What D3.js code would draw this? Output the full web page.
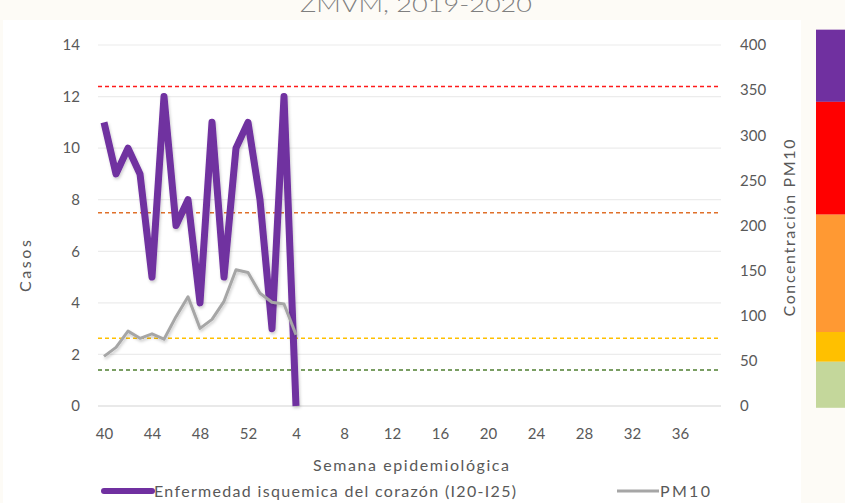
<!DOCTYPE html>
<html>
<head>
<meta charset="utf-8">
<script src="https://cdn.jsdelivr.net/npm/d3@7"></script>
<style>
  body { margin: 0; background: #fdfbf6; }
  svg { display: block; }
  text { font-family: Lato, "Open Sans", sans-serif; fill: #595959; }
</style>
</head>
<body>
<div id="chart"></div>
<script>
// weeks 40-52 of 2019, then 1-39 of 2020
var weeks = d3.range(40, 53).concat(d3.range(1, 40)).map(String);
var casos = [11, 9, 10, 9, 5, 12, 7, 8, 4, 11, 5, 10, 11, 8, 3, 12, 0];
var pm10 = [55, 65, 83, 75, 80, 74, 99, 121, 86, 96, 116, 151, 148, 125, 115, 113, 79];
var casosTicks = [0, 2, 4, 6, 8, 10, 12, 14];
var pmTicks = [0, 50, 100, 150, 200, 250, 300, 350, 400];
var limites = [
  { v: 354, color: "#ff1a1a" },
  { v: 214, color: "#e0702a" },
  { v: 75, color: "#ffc000" },
  { v: 40, color: "#4f7f30" }
];
var bandas = [
  { from: 337, to: 417, color: "#7030a0" },
  { from: 212, to: 337, color: "#ff0000" },
  { from: 82, to: 212, color: "#ff9933" },
  { from: 49, to: 82, color: "#ffc000" },
  { from: -2, to: 49, color: "#c4d79b" }
];

var W = 845, H = 503;
var svg = d3.select("#chart").append("svg").attr("width", W).attr("height", H);

// white card
svg.append("rect").attr("x", 3).attr("y", 20).attr("width", 798).attr("height", H - 20).attr("fill", "#ffffff");

// title, cut off at the top like the source
svg.append("text").attr("x", 416).attr("y", 12).attr("text-anchor", "middle")
  .attr("textLength", 232).attr("lengthAdjust", "spacingAndGlyphs")
  .style("font-size", "22px").style("font-weight", 300).style("fill", "#7f7f7f")
  .text("ZMVM, 2019-2020");

var x = d3.scalePoint().domain(weeks).range([98, 722]).padding(0.5);
var yL = d3.scaleLinear().domain([0, 14]).range([406, 45]);
var yR = d3.scaleLinear().domain([0, 400]).range([406, 45]);

// grid
svg.append("g").selectAll("line").data(casosTicks).enter().append("line")
  .attr("x1", 98).attr("x2", 721)
  .attr("y1", function (d) { return yL(d); }).attr("y2", function (d) { return yL(d); })
  .attr("stroke", function (d) { return d === 0 ? "#d4d4d4" : "#ececec"; })
  .attr("stroke-width", 1.2);

// axes
var axL = svg.append("g").attr("transform", "translate(98,0)")
  .call(d3.axisLeft(yL).tickValues(casosTicks).tickSize(0).tickPadding(18));
var axR = svg.append("g").attr("transform", "translate(721,0)")
  .call(d3.axisRight(yR).tickValues(pmTicks).tickSize(0).tickPadding(19));
var axB = svg.append("g").attr("transform", "translate(0,406)")
  .call(d3.axisBottom(x).tickValues(weeks.filter(function (d, i) { return i % 4 === 0; })).tickSize(0).tickPadding(22));
[axL, axR, axB].forEach(function (a) {
  a.select(".domain").remove();
  a.selectAll("text").style("font-size", "15px").style("fill", "#595959").attr("font-family", null);
});

// threshold lines
svg.append("g").selectAll("line").data(limites).enter().append("line")
  .attr("x1", 98).attr("x2", 721)
  .attr("y1", function (d) { return yR(d.v); }).attr("y2", function (d) { return yR(d.v); })
  .attr("stroke", function (d) { return d.color; })
  .attr("stroke-width", 1.5).attr("stroke-dasharray", "4,3");

// series
var lineL = d3.line().x(function (d, i) { return x(weeks[i]); }).y(function (d) { return yL(d); });
var lineR = d3.line().x(function (d, i) { return x(weeks[i]); }).y(function (d) { return yR(d); });

var defs = svg.append("defs");
var f = defs.append("filter").attr("id", "sh").attr("x", "-10%").attr("y", "-10%").attr("width", "120%").attr("height", "120%");
f.append("feDropShadow").attr("dx", 1).attr("dy", 2).attr("stdDeviation", 1.5).attr("flood-color", "#000").attr("flood-opacity", 0.2);

svg.append("path").datum(casos).attr("d", lineL)
  .attr("fill", "none").attr("stroke", "#7030a0").attr("stroke-width", 7)
  .attr("stroke-linejoin", "round").attr("filter", "url(#sh)");
svg.append("path").datum(pm10).attr("d", lineR)
  .attr("fill", "none").attr("stroke", "#a6a6a6").attr("stroke-width", 3)
  .attr("stroke-linejoin", "round").attr("filter", "url(#sh)");

// axis titles
svg.append("text").attr("transform", "translate(31,266) rotate(-90)").attr("text-anchor", "middle")
  .attr("textLength", 52).attr("lengthAdjust", "spacing")
  .style("font-size", "16px").text("Casos");
svg.append("text").attr("transform", "translate(795,228) rotate(-90)").attr("text-anchor", "middle")
  .attr("textLength", 177).attr("lengthAdjust", "spacing")
  .style("font-size", "16px").text("Concentración PM10");
svg.append("text").attr("x", 411).attr("y", 471).attr("text-anchor", "middle")
  .attr("textLength", 196).attr("lengthAdjust", "spacing")
  .style("font-size", "16px").text("Semana epidemiológica");

// legend
var leg = svg.append("g");
leg.append("line").attr("x1", 104).attr("x2", 152).attr("y1", 491).attr("y2", 491)
  .attr("stroke", "#7030a0").attr("stroke-width", 6).attr("stroke-linecap", "round");
leg.append("text").attr("x", 154).attr("y", 497).attr("textLength", 362).attr("lengthAdjust", "spacing")
  .style("font-size", "16px").text("Enfermedad isquemica del corazón (I20-I25)");
leg.append("line").attr("x1", 617).attr("x2", 659).attr("y1", 491).attr("y2", 491)
  .attr("stroke", "#a6a6a6").attr("stroke-width", 3);
leg.append("text").attr("x", 660).attr("y", 497).attr("textLength", 50).attr("lengthAdjust", "spacing")
  .style("font-size", "16px").text("PM10");

// colour bar on the right (PM10 quality ranges)
svg.append("g").selectAll("rect").data(bandas).enter().append("rect")
  .attr("x", 816).attr("width", 29)
  .attr("y", function (d) { return yR(d.to); })
  .attr("height", function (d) { return yR(d.from) - yR(d.to); })
  .attr("fill", function (d) { return d.color; });
</script>
</body>
</html>
